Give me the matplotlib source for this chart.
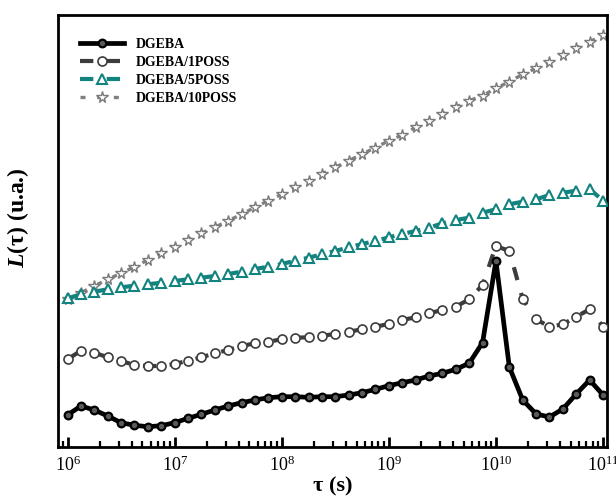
import matplotlib
matplotlib.use("Agg")
import matplotlib.pyplot as plt
from matplotlib.ticker import LogLocator, LogFormatterMathtext, NullFormatter
import numpy as np

plt.rcParams['font.family'] = ['Liberation Serif', 'DejaVu Serif']
plt.rcParams['mathtext.fontset'] = 'custom'
plt.rcParams['mathtext.rm'] = 'Liberation Serif'
plt.rcParams['mathtext.it'] = 'Liberation Serif:italic:bold'
plt.rcParams['mathtext.bf'] = 'Liberation Serif:bold'

# log10 of relaxation time tau (s)
log_tau = [6.0, 6.125, 6.25, 6.375, 6.5, 6.625, 6.75, 6.875,
           7.0, 7.125, 7.25, 7.375, 7.5, 7.625, 7.75, 7.875,
           8.0, 8.125, 8.25, 8.375, 8.5, 8.625, 8.75, 8.875,
           9.0, 9.125, 9.25, 9.375, 9.5, 9.625, 9.75, 9.875,
           10.0, 10.125, 10.25, 10.375, 10.5, 10.625, 10.75, 10.875, 11.0]

dgeba = [32, 41, 37, 31, 24.3, 21.7, 20.3, 21.3, 24.3, 28.7, 32.7, 37, 41, 44.3,
         47, 49.3, 50.3, 50.3, 49.7, 50.3, 50.3, 52, 54.3, 57.7, 61.3, 64.3, 67,
         71, 73.7, 77.7, 83.7, 104.3, 186, 80, 47, 33, 30, 38, 53, 67, 52]

dgeba_1poss = [87.7, 96.3, 94.3, 89.7, 86, 82, 81, 81, 83, 86.3, 89.7, 93.7, 97,
               101, 103.7, 105.3, 107.7, 109.3, 109.7, 111.3, 113, 115.3, 117.7,
               120.3, 123, 127, 129.7, 133.7, 137, 140.3, 147.7, 162, 201, 196,
               148, 127.7, 120.3, 122.7, 130.3, 137.7, 120.3]

dgeba_5poss = [148.7, 152.7, 155.3, 157.7, 159.7, 161.3, 162.7, 164.3, 166, 167.7,
               169.3, 171, 173, 175.3, 178, 180.3, 183, 186.3, 189.3, 192.7, 196,
               199.7, 203, 206, 209.7, 213, 216, 219.3, 223.7, 227, 229.3, 234.3,
               237.7, 242.7, 245.3, 247.7, 252, 254.3, 256.3, 258, 246.3]

dgeba_10poss = [147.7, 154.3, 161, 167.7, 173.7, 180.3, 187, 193.7, 199.7, 207,
                213.7, 219.7, 226.3, 232.7, 239.7, 246.3, 252.7, 259.7, 266.3, 273,
                279.7, 286.3, 293, 299.3, 306.3, 312, 319.7, 326.3, 332.7, 339.7,
                346.3, 351.3, 358.7, 365.3, 372.7, 378.7, 385.3, 392, 398.7, 405.3, 412]

labels = ['DGEBA', 'DGEBA/1POSS', 'DGEBA/5POSS', 'DGEBA/10POSS']

tau = [10 ** v for v in log_tau]

fig = plt.figure(figsize=(6.16, 4.98), dpi=100)
ax = fig.add_axes([58 / 616, 1 - 447 / 498, (607 - 58) / 616, (447 - 15) / 498])

teal = '#13837f'
ax.plot(tau, dgeba, color='black', lw=3.4, marker='o', ms=5.5,
        mfc='#5a5a5a', mec='black', mew=1.6, label=labels[0], zorder=5)
ax.plot(tau, dgeba_1poss, color='#3c3c3c', lw=3.0, ls=(0, (3.2, 3.2)), marker='o', ms=6.5,
        mfc='white', mec='#3c3c3c', mew=1.2, label=labels[1], zorder=4)
ax.plot(tau, dgeba_5poss, color=teal, lw=3.0, ls=(0, (3.2, 3.2)), marker='^', ms=7,
        mfc='white', mec=teal, mew=1.5, label=labels[2], zorder=3)
ax.plot(tau, dgeba_10poss, color='#808080', lw=2.4, ls=(0, (1.5, 3.5)), marker='*', ms=8.5,
        mfc='white', mec='#7a7a7a', mew=1.0, label=labels[3], zorder=2)

ax.set_xscale('log')
ax.set_xlim(10 ** 5.911, 10 ** 11.037)
ax.set_ylim(0, 432)

ax.xaxis.set_major_locator(LogLocator(base=10, numticks=20))
ax.xaxis.set_major_formatter(LogFormatterMathtext())
ax.xaxis.set_minor_locator(LogLocator(base=10, subs=np.arange(2, 10), numticks=20))
ax.xaxis.set_minor_formatter(NullFormatter())
ax.tick_params(axis='x', which='major', direction='in', length=7, width=2,
               labelsize=13, pad=6, top=False)
ax.tick_params(axis='x', which='minor', direction='in', length=4, width=1.6, top=False)
ax.set_yticks([])

for s in ax.spines.values():
    s.set_linewidth(2)

ax.set_xlabel('τ (s)', fontsize=16, fontweight='bold', labelpad=1)
ax.set_ylabel('$\\mathit{L}$(τ) (u.a.)', fontsize=17, fontweight='bold')
ax.yaxis.set_label_coords(-0.05, 0.53)

leg = ax.legend(loc='upper left', bbox_to_anchor=((80 - 58) / 549, 1 - (38 - 15) / 432),
                frameon=False, prop={'weight': 'bold', 'size': 10}, handlelength=3.2,
                handletextpad=0.8, labelspacing=0.36, borderpad=0, borderaxespad=0,
                numpoints=1)

fig.savefig('out.png', dpi=100)
